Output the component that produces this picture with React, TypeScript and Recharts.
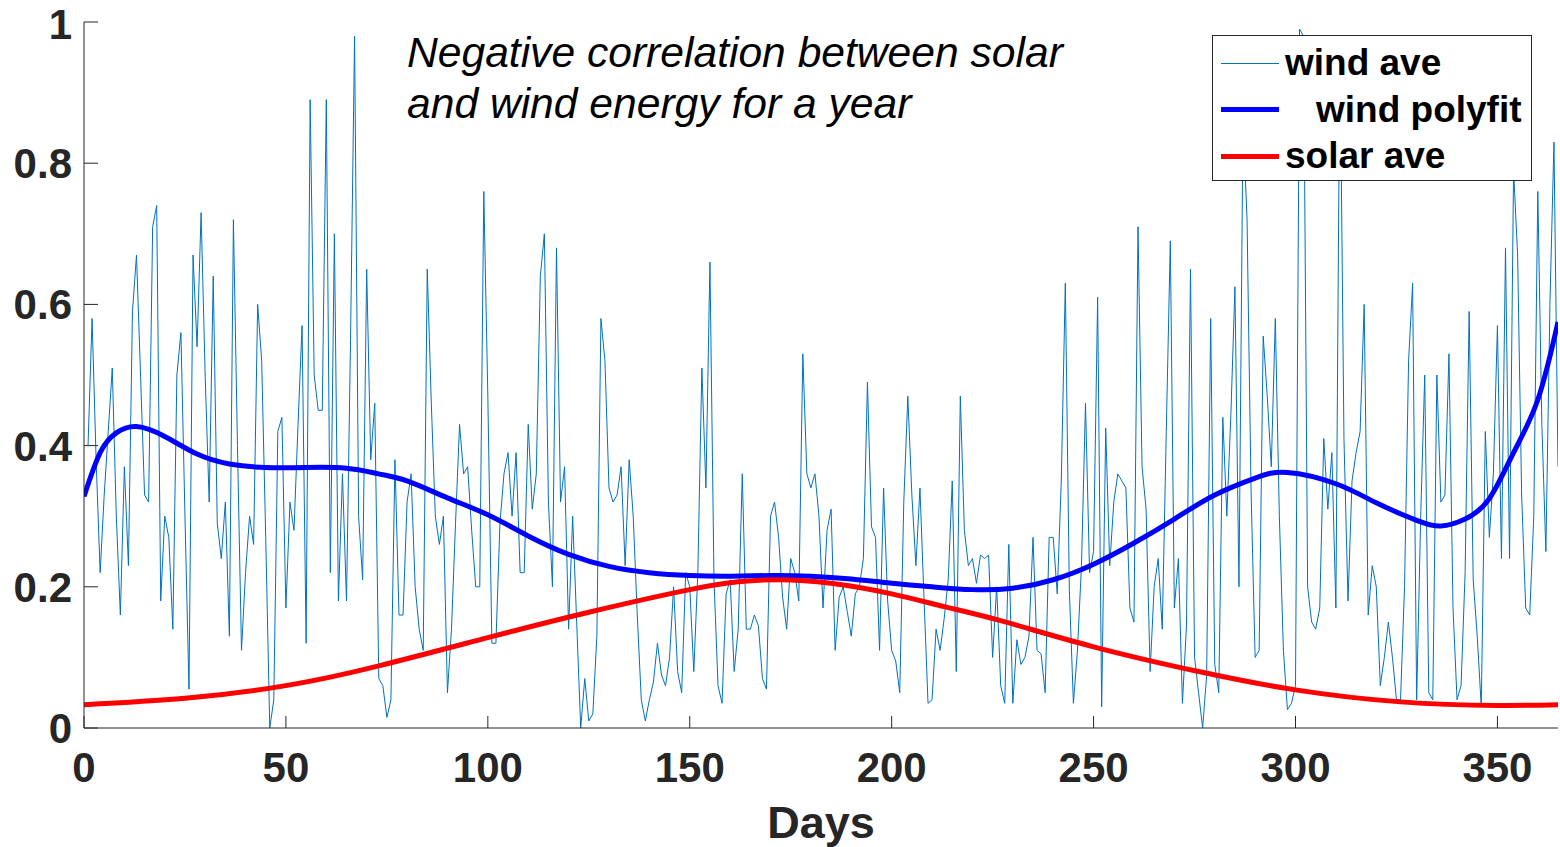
import React from 'react';
import { LineChart, Line, XAxis, YAxis, Legend } from 'recharts';

// daily wind average (day 1..365)
const windAve = [
  0.40, 0.58, 0.38, 0.22, 0.33, 0.42, 0.51, 0.30, 0.16, 0.37,
  0.23, 0.59, 0.67, 0.50, 0.33, 0.32, 0.71, 0.74, 0.18, 0.30,
  0.27, 0.14, 0.50, 0.56, 0.30, 0.055, 0.67, 0.54, 0.73, 0.50,
  0.32, 0.64, 0.29, 0.24, 0.32, 0.13, 0.72, 0.40, 0.11, 0.22,
  0.30, 0.26, 0.60, 0.52, 0.27, 0.0, 0.04, 0.42, 0.44, 0.17,
  0.32, 0.28, 0.43, 0.57, 0.12, 0.89, 0.50, 0.45, 0.45, 0.89,
  0.22, 0.70, 0.18, 0.36, 0.18, 0.55, 0.98, 0.30, 0.21, 0.65,
  0.38, 0.46, 0.07, 0.06, 0.015, 0.04, 0.38, 0.16, 0.16, 0.32,
  0.36, 0.20, 0.14, 0.11, 0.65, 0.46, 0.30, 0.26, 0.30, 0.05,
  0.14, 0.29, 0.43, 0.36, 0.37, 0.28, 0.20, 0.20, 0.76, 0.47,
  0.12, 0.12, 0.29, 0.36, 0.39, 0.30, 0.39, 0.22, 0.22, 0.43,
  0.31, 0.36, 0.64, 0.70, 0.32, 0.20, 0.68, 0.32, 0.37, 0.14,
  0.30, 0.15, 0.0, 0.07, 0.01, 0.02, 0.13, 0.58, 0.52, 0.34,
  0.32, 0.33, 0.37, 0.23, 0.38, 0.30, 0.16, 0.04, 0.01, 0.04,
  0.065, 0.12, 0.075, 0.06, 0.10, 0.20, 0.08, 0.05, 0.22, 0.20,
  0.08, 0.22, 0.51, 0.34, 0.66, 0.21, 0.06, 0.035, 0.19, 0.21,
  0.08, 0.14, 0.36, 0.14, 0.14, 0.16, 0.145, 0.07, 0.055, 0.30,
  0.32, 0.27, 0.185, 0.14, 0.24, 0.22, 0.18, 0.53, 0.36, 0.34,
  0.36, 0.30, 0.17, 0.28, 0.31, 0.11, 0.185, 0.20, 0.165, 0.13,
  0.19, 0.20, 0.24, 0.49, 0.285, 0.27, 0.11, 0.34, 0.18, 0.11,
  0.095, 0.05, 0.32, 0.47, 0.33, 0.23, 0.34, 0.185, 0.035, 0.04,
  0.14, 0.11, 0.155, 0.21, 0.35, 0.08, 0.47, 0.28, 0.23, 0.24,
  0.205, 0.245, 0.24, 0.245, 0.10, 0.20, 0.06, 0.035, 0.26, 0.035,
  0.125, 0.09, 0.10, 0.13, 0.27, 0.11, 0.105, 0.05, 0.27, 0.27,
  0.19, 0.35, 0.63, 0.195, 0.035, 0.11, 0.23, 0.46, 0.22, 0.25,
  0.61, 0.03, 0.425, 0.23, 0.32, 0.36, 0.35, 0.34, 0.17, 0.15,
  0.71, 0.37, 0.31, 0.08, 0.20, 0.24, 0.14, 0.42, 0.69, 0.17,
  0.24, 0.035, 0.145, 0.65, 0.10, 0.05, 0.0, 0.075, 0.58, 0.09,
  0.05, 0.44, 0.30, 0.445, 0.625, 0.20, 0.86, 0.72, 0.335, 0.10,
  0.11, 0.555, 0.47, 0.37, 0.58, 0.30, 0.11, 0.026, 0.035, 0.06,
  0.99, 0.98, 0.20, 0.15, 0.14, 0.17, 0.41, 0.31, 0.39, 0.17,
  0.98, 0.41, 0.18, 0.35, 0.39, 0.42, 0.60, 0.16, 0.23, 0.20,
  0.06, 0.10, 0.15, 0.10, 0.04, 0.04, 0.20, 0.52, 0.63, 0.04,
  0.30, 0.50, 0.05, 0.04, 0.50, 0.32, 0.33, 0.53, 0.17, 0.04,
  0.06, 0.22, 0.59, 0.21, 0.13, 0.03, 0.42, 0.27, 0.36, 0.57,
  0.24, 0.68, 0.24, 0.79, 0.67, 0.33, 0.17, 0.16, 0.30, 0.76,
  0.43, 0.25, 0.60, 0.83, 0.37,
];

// polynomial fit of wind, sampled from the curve
const fitDays = [0, 4, 8, 13, 20, 28, 36, 45, 55, 65, 73, 80, 90, 100, 110, 120, 130, 140, 150, 160, 170, 180, 190, 200, 210, 220, 230, 240, 250, 260, 270, 280, 290, 298, 310, 320, 330, 336, 342, 348, 354, 360, 365];
const fitValues = [0.328, 0.39, 0.418, 0.427, 0.413, 0.388, 0.374, 0.369, 0.369, 0.368, 0.36, 0.35, 0.326, 0.302, 0.272, 0.246, 0.229, 0.22, 0.216, 0.215, 0.216, 0.215, 0.211, 0.205, 0.2, 0.196, 0.198, 0.21, 0.232, 0.262, 0.296, 0.33, 0.354, 0.362, 0.346, 0.319, 0.294, 0.286, 0.296, 0.325, 0.39, 0.465, 0.575];

// solar average curve
const solarDays = [0, 25, 50, 73, 100, 125, 150, 162, 172, 185, 200, 213, 227, 250, 276, 300, 326, 350, 365];
const solarValues = [0.033, 0.042, 0.06, 0.088, 0.128, 0.164, 0.196, 0.207, 0.21, 0.205, 0.19, 0.172, 0.152, 0.115, 0.08, 0.054, 0.037, 0.032, 0.033];

const xTicks = [0, 50, 100, 150, 200, 250, 300, 350];
const yTicks = [0, 0.2, 0.4, 0.6, 0.8, 1];

const windData = windAve.map((v, i) => ({ day: i + 1, value: v }));
const fitData = fitDays.map((d, i) => ({ day: d, value: fitValues[i] }));
const solarData = solarDays.map((d, i) => ({ day: d, value: solarValues[i] }));

const series = [
  { name: 'wind ave', color: '#0072BD', width: 1, indent: 0 },
  { name: 'wind polyfit', color: '#0000FF', width: 5, indent: 31 },
  { name: 'solar ave', color: '#FF0000', width: 5, indent: 0 },
];

const FONT = '"Liberation Sans", Arial, Helvetica, sans-serif';
const AXIS = '#262626';

const LegendBox = () => (
  <div
    style={{
      width: 320,
      height: 146,
      boxSizing: 'border-box',
      border: `1px solid ${AXIS}`,
      background: '#fff',
      fontFamily: FONT,
      fontWeight: 'bold',
      fontSize: 37,
      color: '#000',
      paddingTop: 4,
    }}
  >
    {series.map((s) => (
      <div key={s.name} style={{ display: 'flex', alignItems: 'center', height: 46.5 }}>
        <div style={{ marginLeft: 8, width: 58, height: s.width, background: s.color }} />
        <span style={{ marginLeft: 6 + s.indent, lineHeight: '40px' }}>{s.name}</span>
      </div>
    ))}
  </div>
);

export default function App() {
  return (
    <div style={{ position: 'fixed', left: 0, top: 0, width: 1560, height: 847, background: '#fff' }}>
      <LineChart
        width={1560}
        height={847}
        margin={{ top: 22, right: 2, bottom: 0, left: 0 }}
      >
        <XAxis
          dataKey="day"
          type="number"
          domain={[0, 365]}
          ticks={xTicks}
          allowDataOverflow
          height={119}
          stroke={AXIS}
          tickSize={-12}
          tickMargin={36}
          tick={{ fill: AXIS, fontSize: 42, fontWeight: 'bold', fontFamily: FONT }}
          label={{
            value: 'Days',
            position: 'insideBottom',
            offset: 9,
            style: { fill: AXIS, fontSize: 45, fontWeight: 'bold', fontFamily: FONT },
          }}
        />
        <YAxis
          type="number"
          domain={[0, 1]}
          ticks={yTicks}
          allowDataOverflow
          width={84}
          stroke={AXIS}
          tickSize={-14}
          tickMargin={26}
          tickFormatter={(v) => String(v)}
          tick={{ fill: AXIS, fontSize: 42, fontWeight: 'bold', fontFamily: FONT }}
        />
        <Legend
          layout="vertical"
          verticalAlign="middle"
          align="center"
          content={() => <LegendBox />}
          wrapperStyle={{ position: 'absolute', left: 1212, top: 35, width: 320, height: 146 }}
        />
        <Line
          data={windData}
          dataKey="value"
          name="wind ave"
          type="linear"
          stroke={series[0].color}
          strokeWidth={1}
          dot={false}
          isAnimationActive={false}
        />
        <Line
          data={fitData}
          dataKey="value"
          name="wind polyfit"
          type="natural"
          stroke={series[1].color}
          strokeWidth={5}
          dot={false}
          isAnimationActive={false}
        />
        <Line
          data={solarData}
          dataKey="value"
          name="solar ave"
          type="natural"
          stroke={series[2].color}
          strokeWidth={5}
          dot={false}
          isAnimationActive={false}
        />
      </LineChart>
      <div
        style={{
          position: 'absolute',
          left: 407,
          top: 27,
          fontFamily: FONT,
          fontStyle: 'italic',
          fontSize: 42.6,
          lineHeight: '51px',
          color: '#000',
          whiteSpace: 'nowrap',
        }}
      >
        Negative correlation between solar
        <br />
        and wind energy for a year
      </div>
    </div>
  );
}
